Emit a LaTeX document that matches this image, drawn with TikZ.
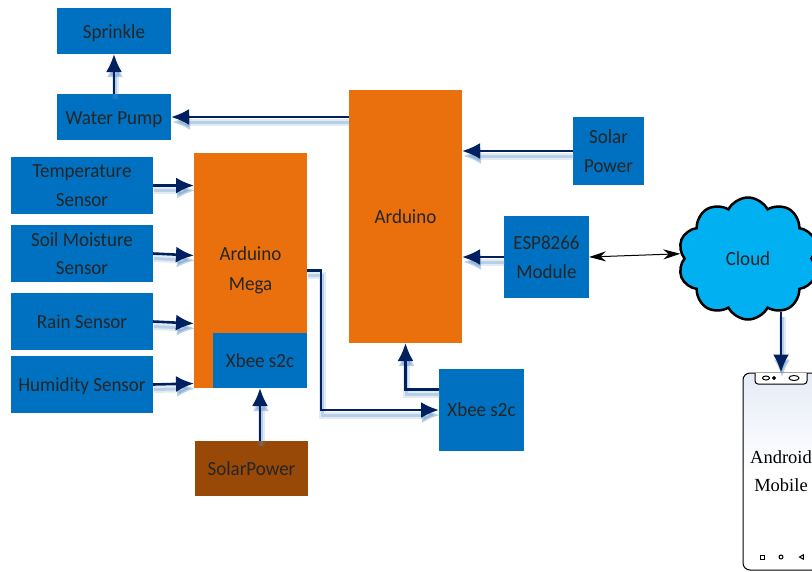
\documentclass[tikz,border=0pt]{standalone}
\usepackage{fontspec}
\setmainfont[FakeStretch=0.95]{Carlito}
\newfontfamily\phonefont{Liberation Serif}
\usetikzlibrary{arrows.meta,positioning,calc,shapes.symbols,shapes.geometric}
\definecolor{BoxBlue}{HTML}{0070C0}
\definecolor{BoxOrange}{HTML}{E9700D}
\definecolor{BoxBrown}{HTML}{984807}
\definecolor{CloudBlue}{HTML}{00B0F0}
\definecolor{ArrowBlue}{HTML}{002060}
\definecolor{ShadowBlue}{HTML}{5B8FC4}
\definecolor{PhoneTint}{HTML}{E6EBF7}
\tikzset{
  blk/.style      = {inner sep=0pt, outer sep=0pt, align=center, font=\fontsize{20}{28.5}\selectfont,
                     text=black!85},
  blkblue/.style  = {blk, fill=BoxBlue},
  sensor/.style   = {blkblue, minimum width=142pt, minimum height=57pt},
  blkact/.style   = {blkblue, minimum width=114pt, minimum height=46pt},
  blkard/.style   = {blk, fill=BoxOrange, minimum width=113pt},
  lowtxt/.style   = {text height=18pt},
  flecha/.style   = {-{Latex[length=18pt,width=16pt]}, line width=2.6pt, draw=ArrowBlue,
                     preaction={draw=ShadowBlue, opacity=.18, line width=7pt,
                                transform canvas={xshift=1pt,yshift=-5pt}},
                     preaction={draw=ShadowBlue, opacity=.3, line width=3pt,
                                transform canvas={xshift=1pt,yshift=-5pt}}},
  flechab/.style  = {{Stealth[length=17pt,width=10pt]}-{Stealth[length=17pt,width=10pt]}, line width=1pt},
  icon/.style     = {draw, line width=1pt, inner sep=0pt},
}
\begin{document}
\begin{tikzpicture}[x=1pt,y=-1pt]
  \useasboundingbox (0,0) rectangle (812,571);
  \clip (0,0) rectangle (812,571);
  % left column
  \node[sensor] (temp) at (82,185.5) {Temperature\\Sensor};
  \node[sensor, below=11pt of temp] (soil) {Soil Moisture\\Sensor};
  \node[sensor, below=11pt of soil] (rain) {Rain Sensor};
  \node[sensor, lowtxt, below=6pt of rain] (hum) {Humidity Sensor};
  \node[blkact, lowtxt] (pump) at (114,117) {Water Pump};
  \node[blkact, lowtxt, above=40pt of pump] (spr) {Sprinkle};
  % controllers
  \node[blkard, minimum height=235pt] (mega) at (250.5,270.5) {Arduino\\[1pt]Mega};
  \node[blkblue, minimum width=94pt, minimum height=55pt, anchor=south east] (xba) at (mega.south east) {Xbee s2c};
  \node[blk, fill=BoxBrown, minimum width=113pt, minimum height=55pt] (solb) at (251.5,468.5) {SolarPower};
  \node[blkard, minimum height=253pt] (ard) at (405.5,216.5) {Arduino};
  \node[blkblue, minimum width=85pt, minimum height=82pt] (xbb) at (481.5,410) {Xbee s2c};
  \node[blkblue, minimum width=71pt, minimum height=68pt] (sola) at (608.5,151) {Solar\\Power};
  \node[blkblue, minimum width=85pt, minimum height=82pt] (esp) at (546.5,257) {ESP8266\\Module};
  % cloud and phone
  \node[cloud, cloud puffs=10, cloud puff arc=125, draw, line width=2.5pt, fill=CloudBlue, aspect=1.15,
        minimum width=140pt, minimum height=122pt, inner sep=0pt,
        font=\fontsize{20}{28}\selectfont, text=black!85] (cld) at (748,258.5) {Cloud};
  \node[draw, line width=1pt, rounded corners=7pt, top color=PhoneTint, bottom color=white, middle color=white,
        minimum width=76pt, minimum height=197pt, inner sep=0pt, align=center,
        font=\phonefont\fontsize{18.5}{28}\selectfont] (phone) at (781,471.5) {Android\\Mobile};
  \draw[line width=1pt, fill=white, rounded corners=3pt] (755,373) -- (755,384) -- (807,384) -- (807,373);
  \node[icon, ellipse, minimum width=7pt, minimum height=4pt] (camb) at (766,378) {};
  \node[icon, circle, fill, minimum size=3pt] (camc) at (774,378) {};
  \node[icon, ellipse, minimum width=10pt, minimum height=5pt] (spk) at (794,378) {};
  \node[icon, minimum size=4pt] (btna) at (762,557) {};
  \node[icon, circle, minimum size=4pt] (btnb) at (781,557) {};
  \node[icon, regular polygon, regular polygon sides=3, shape border rotate=90, minimum size=5pt] (btnc) at (802,557) {};
  % connectors
  \draw[flecha] (pump.north) -- (spr.south);
  \draw[flecha] (ard.west |- pump) -- (pump.east);
  \draw[flecha] (temp.east) -- (temp -| mega.west);
  \draw[flecha] (soil.east) -- ($(soil -| mega.west)+(0,2)$);
  \draw[flecha] (rain.east) -- ($(rain -| mega.west)+(0,2)$);
  \draw[flecha] (hum.east) -- ($(hum -| mega.west)+(0,-1)$);
  \draw[flecha] (mega.east) -- ++(14,0) |- (xbb.west);
  \draw[flecha] ($(xbb.north west)!.25!(xbb.south west)$) -| (ard.south);
  \draw[flecha] (xba.south |- solb.north) -- (xba.south);
  \draw[flecha] (sola.west) -- (sola -| ard.east);
  \draw[flecha] (esp.west) -- (esp -| ard.east);
  \draw[flechab] (esp.east) -- (cld.176);
  \draw[flecha] (phone.north |- cld.-62) -- (phone.north);
\end{tikzpicture}
\end{document}
